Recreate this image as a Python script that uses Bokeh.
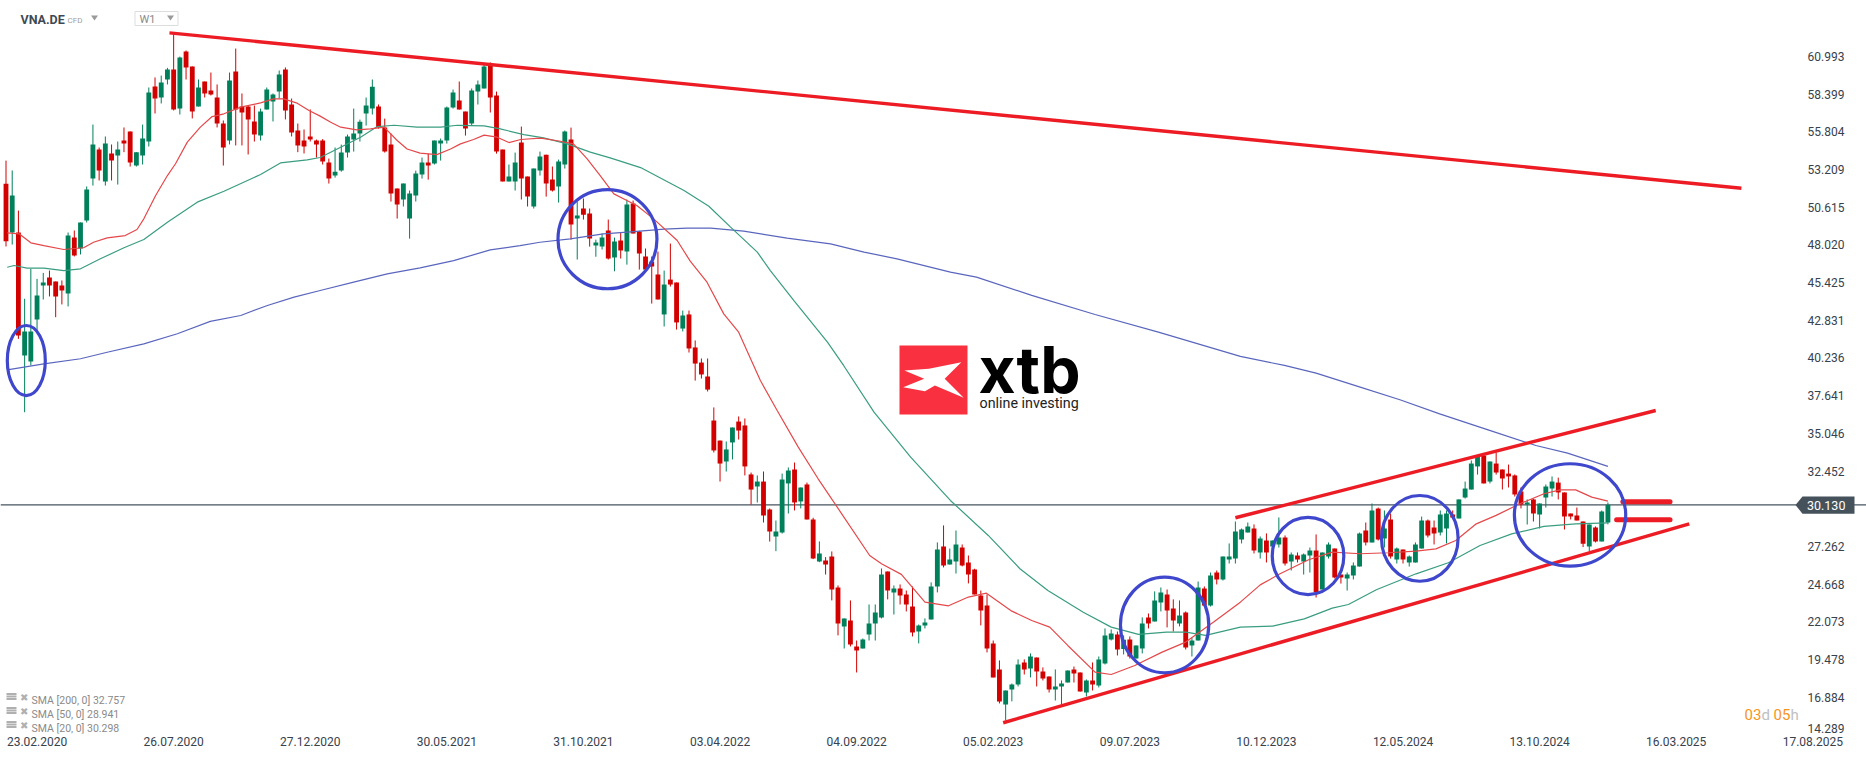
from bokeh.plotting import figure
from bokeh.models import (ColumnDataSource, FixedTicker, NumeralTickFormatter, Label, Span,
                          Range1d, PolyAnnotation)
from bokeh.embed import file_html
from bokeh.resources import INLINE

# ---------- data (weekly candles, prices) ----------
directions = ("RGRGGGGRRR" "GRGGGRGRGR" "RGGGRGGRGR" "RGRRRRGRRR" "RGGGGRRRRR"
              "RRRGGGGGGG" "RRRRGGGGRG" "GGGRRGGGRR" "RGGRRGGRRG" "GRGRRGGRGR"
              "GRRRRRGRRG" "RRRRRRGGRR" "RGRRGGGRGR" "RGRRRGRRGG" "GGRGRRRGGG"
              "GRGGRRRRRR" "RGGGRGRRRG" "GGRRGRGGGR" "GRGGRGGRRG" "RGGRGRGGGG"
              "GRGRGGRGRG" "GRGGRRGGGR" "GRGRGRGGGR" "RGGRGGGGRG" "RRRRRGRGGG"
              "RRRRRGRGG")

highs = [53.82,53.14,50.38,44.31,46.37,45.68,46.09,46.25,45.5,45.57,
48.87,49.01,49.56,52.04,56.3,54.72,55.48,54.93,55.13,56.1,
55.82,54.4,56.3,58.85,59.54,59.67,60.2,62.54,60.98,61.4,
60.3,59.4,59.26,59.88,59.06,56.58,59.88,61.53,58.44,57.61,
57.61,57.4,58.85,58.44,60.02,60.23,58.09,56.37,55.96,57.34,
55.27,55.3,53.96,54.72,54.92,55.61,57.4,56.64,58.16,59.4,
57.68,56.71,55.68,51.9,52.24,51.76,53.13,54.03,54.3,55.2,
55.34,57.54,58.71,59.26,57.19,58.78,59.33,60.43,60.57,58.57,
54.58,53.55,54.37,56.16,52.72,53.27,54.44,54.23,53.41,53.89,
55.89,56.09,51.0,51.21,50.52,48.38,48.8,49.76,48.52,48.84,
51.14,51.07,48.98,47.77,47.22,47.56,46.25,48.11,45.43,43.5,
43.5,41.44,40.2,40.2,36.83,34.55,34.49,35.45,36.21,36.07,
32.35,32.15,32.42,29.88,29.05,32.28,32.7,33.04,31.32,31.66,
29.24,27.61,26.53,26.92,24.58,22.31,23.55,20.79,20.93,23.27,
23.27,25.75,25.54,24.58,24.65,24.23,24.51,21.89,22.31,24.79,
27.54,28.71,27.12,28.36,27.4,26.64,25.73,24.23,23.96,20.79,
19.42,17.35,17.83,19.49,19.49,19.9,19.62,18.94,18.32,18.8,
18.04,18.73,19.0,18.59,18.11,19.28,19.69,21.62,21.55,21.41,
21.14,21.07,20.45,22.38,22.65,24.17,24.44,24.3,23.62,23.55,
22.79,20.98,24.85,24.51,25.47,25.61,26.57,27.47,28.98,28.5,
28.91,28.78,27.95,28.16,27.67,29.26,28.02,26.85,26.85,26.78,
27.19,28.09,26.85,27.54,27.12,25.33,25.47,26.16,28.22,28.91,
30.22,29.94,29.74,29.53,27.19,27.05,26.64,27.54,29.32,29.12,
29.05,29.74,29.74,29.74,30.5,31.73,33.18,33.52,33.52,33.11,
33.73,32.56,32.9,32.22,31.32,30.5,30.56,30.22,31.53,32.08,
32.0,30.98,29.53,29.94,28.98,28.78,28.64,29.74,30.29]

body_tops = [52.22,51.42,48.87,42.06,42.06,44.53,45.43,45.77,45.5,45.22,
48.66,48.53,49.56,51.83,54.93,54.58,55.0,54.31,54.58,55.2,
55.82,54.4,55.34,58.5,58.92,59.19,60.09,60.09,60.91,61.33,
60.3,58.85,59.26,58.64,58.16,56.37,59.33,59.95,57.54,57.54,
56.51,57.2,58.71,58.37,59.74,60.09,57.68,55.89,55.2,55.48,
55.2,55.2,53.68,53.06,54.37,55.47,55.68,56.5,57.61,58.91,
57.54,56.09,54.92,51.9,52.24,51.55,52.93,53.68,53.68,55.2,
55.2,57.47,58.5,57.95,57.19,58.64,59.05,60.29,60.43,58.3,
54.58,52.72,53.68,55.06,52.72,53.27,54.1,54.23,52.51,53.75,
55.82,55.27,50.04,50.52,50.17,48.18,48.52,49.0,48.25,48.32,
50.79,50.86,48.94,47.22,46.87,45.98,45.29,45.63,45.43,43.16,
43.23,40.96,39.92,38.96,35.93,34.55,33.94,35.45,35.86,35.59,
32.22,31.73,31.73,29.81,28.29,31.87,32.49,32.56,31.32,31.53,
29.12,26.78,26.3,26.57,24.44,22.31,22.17,20.38,20.86,21.96,
22.72,25.33,25.54,24.37,24.37,23.96,23.13,21.83,22.03,24.51,
27.05,27.26,26.37,27.4,27.19,26.16,25.68,23.89,23.2,20.59,
18.8,17.35,17.77,19.14,19.28,19.69,19.62,18.66,18.32,17.63,
17.83,18.73,18.8,18.59,18.04,18.04,19.49,21.14,21.27,21.21,
20.84,20.86,20.45,21.96,22.38,23.55,24.1,23.96,22.99,22.51,
22.72,20.79,24.44,24.37,25.27,25.47,26.57,26.57,28.29,28.43,
28.64,28.5,27.81,27.67,27.67,27.88,27.88,26.71,26.64,26.71,
26.98,26.98,26.85,27.4,27.12,25.33,25.33,25.95,28.16,28.36,
29.74,29.87,28.5,29.12,27.12,27.05,26.57,27.4,29.05,29.05,
28.57,29.46,29.53,29.46,30.5,31.25,32.97,33.45,33.52,33.11,
32.97,32.56,32.28,32.15,31.05,30.29,30.5,30.22,31.39,31.73,
31.66,30.98,29.53,29.39,28.98,28.78,28.57,29.67,30.13]

body_bottoms = [48.27,48.87,41.78,40.41,39.99,42.88,45.22,45.22,44.47,44.88,
44.67,47.29,47.77,49.7,52.59,53.14,52.38,53.82,54.17,55.0,
53.69,53.48,54.17,55.13,58.09,58.16,59.4,57.33,57.4,60.23,
57.2,57.54,58.44,58.37,56.37,54.72,55.2,57.33,57.13,56.65,
55.61,55.55,57.33,57.89,58.57,57.27,55.75,54.86,54.79,55.27,
54.93,53.75,52.58,52.79,53.13,54.37,55.27,55.68,57.06,57.4,
56.09,54.44,51.55,50.79,51.14,49.83,51.41,52.86,53.48,53.62,
54.99,55.2,57.47,57.33,56.02,56.37,58.57,58.78,58.16,54.44,
52.38,52.38,52.38,52.58,51.34,50.66,53.13,52.24,51.76,52.03,
53.55,49.42,49.83,50.1,48.45,47.97,47.9,47.08,47.15,47.63,
47.56,48.8,47.42,46.32,46.53,44.26,43.23,45.29,42.68,42.26,
40.89,39.85,39.1,38.06,33.87,32.97,33.11,34.42,35.24,32.77,
31.18,31.39,29.39,28.29,27.95,28.22,31.6,30.29,30.36,29.12,
26.44,26.23,26.02,24.3,21.96,21.76,20.52,20.1,20.24,21.2,
21.96,22.37,24.23,24.09,23.89,23.27,21.34,21.41,21.83,22.24,
24.51,25.95,26.02,26.23,25.95,25.34,23.96,22.86,20.24,18.25,
16.6,16.39,17.42,17.77,18.8,18.87,18.66,18.18,17.42,17.42,
17.63,17.9,18.52,17.28,17.22,17.77,17.7,19.21,20.86,20.17,
20.2,19.69,19.55,20.24,21.96,22.1,23.41,22.86,22.17,21.96,
20.31,20.45,20.79,23.2,23.2,24.99,24.99,26.37,26.44,27.74,
28.23,26.99,26.85,26.85,27.26,27.4,26.09,26.23,26.37,26.23,
26.64,24.12,24.3,26.57,25.13,25.13,25.06,25.26,25.88,27.54,
27.54,27.74,27.81,26.57,26.37,26.37,26.16,26.16,27.12,28.02,
28.16,28.22,28.5,29.26,29.19,30.63,31.18,32.77,31.6,31.73,
32.35,31.94,32.08,30.84,30.15,30.15,29.53,29.46,30.63,31.25,
30.98,29.33,29.33,29.05,27.45,27.26,27.6,27.61,28.91]

lows = [47.91,48.04,41.55,36.5,39.72,42.01,44.26,44.47,43.04,43.92,
43.78,47.22,47.36,49.56,52.1,52.45,52.1,52.45,52.17,54.4,
53.41,53.41,53.55,54.79,57.06,57.75,59.06,57.27,56.99,59.4,
56.72,57.54,58.16,58.3,56.1,53.48,54.93,54.86,54.86,54.24,
55.13,55.2,57.33,56.51,58.09,56.65,55.48,54.4,54.31,55.13,
54.03,53.55,52.24,52.65,53.06,54.03,54.44,55.13,56.23,56.99,
56.02,54.37,51.0,49.83,50.66,48.45,51.0,52.58,52.51,53.55,
53.82,54.99,57.4,57.33,55.54,56.23,57.68,58.78,57.13,54.3,
52.38,52.38,51.76,51.14,50.66,50.52,52.79,51.34,51.69,50.93,
53.27,48.38,47.01,49.76,47.9,47.2,47.7,47.01,46.2,47.08,
46.66,48.8,46.32,46.25,43.98,44.26,42.4,45.15,42.19,42.06,
40.61,38.68,38.82,37.93,33.73,31.73,32.42,33.25,34.62,32.15,
30.15,30.29,28.91,27.6,26.94,28.15,29.53,29.74,29.88,29.12,
26.39,26.18,25.33,23.55,21.14,20.24,20.38,18.59,20.24,20.79,
20.79,22.31,23.62,22.58,23.27,22.79,21.07,20.59,21.62,22.24,
24.1,25.82,26.02,25.4,25.89,24.72,23.96,21.83,19.97,18.25,
16.46,15.29,16.6,17.63,18.45,18.25,17.63,18.04,17.21,16.66,
16.39,17.9,17.9,17.28,16.94,17.35,17.56,19.14,20.79,19.76,
19.83,19.55,19.55,19.9,21.62,22.1,22.79,21.69,21.41,21.76,
20.17,19.69,20.79,23.13,23.13,24.65,24.92,26.09,26.09,27.47,
28.23,26.78,26.43,26.16,26.64,27.19,25.95,25.61,26.16,25.33,
25.47,23.75,24.3,26.43,25.06,24.71,24.23,24.99,25.88,27.33,
27.54,27.67,27.19,26.43,26.09,26.09,25.88,26.16,27.12,27.88,
27.4,28.02,27.47,29.19,29.19,30.56,31.18,32.21,31.6,31.6,
32.21,31.18,31.32,30.7,29.88,28.77,28.98,28.5,29.94,30.7,
30.5,28.43,29.12,29.05,27.22,26.94,27.54,27.61,28.78]

sma200_weeks = [0.2,6.1,12,16.3,22.2,27.6,32.9,37.8,42.1,46.4,50.6,56,61.4,66.7,72.1,78,82.8,86,90.9,96.2,
                100.6,106,109.7,113.5,118.8,125.8,132.8,138.2,143.5,152.1,156.3,165.2,175.4,185.6,198.8,
                205.9,211,218.1,224.5,230.9,238.7,246.4,251.5,258]
sma200_vals = [39.42,39.83,40.18,40.63,41.21,41.9,42.75,43.16,43.85,44.42,44.88,45.45,46.02,46.44,46.94,47.67,47.97,48.2,48.43,48.77,
               48.92,49.1,49.17,49.17,48.96,48.48,48.09,47.52,47.06,46.14,45.8,44.54,43.23,42.01,40.34,
               39.72,39.19,38.23,37.36,36.39,35.29,34.21,33.69,32.77]

sma50_weeks = [0.2,1.3,3.4,6.1,9.3,12,15.2,19,22.2,26,30.8,35.1,41,44.2,48.5,50.6,53.9,57.1,59.8,62.5,66.2,70,72.7,77,
               79.6,83.4,86.6,90.4,94.1,97.3,102.2,109.2,113.2,116.7,121,123.1,126.9,132.3,134.9,139.8,145.7,152.1,
               158.2,163.3,167.8,173.5,178,182.4,186.9,190,193.2,198.8,204,209.1,213.6,216.2,220.7,227.1,232.3,
               237.4,242.5,247.7,252.8,258]
sma50_vals = [46.48,46.6,46.42,46.42,46.25,46.37,47.06,47.82,48.39,49.58,50.96,51.71,52.86,53.66,53.87,54.03,54.74,55.43,56.16,56.25,56.12,56.12,56.25,56.21,
              56.0,55.61,55.38,54.97,54.4,54.01,53.34,51.76,50.68,49.24,47.52,46.25,44.19,41.32,39.72,36.51,33.41,30.43,
              28.02,25.73,24.23,22.74,21.71,21.21,21.37,21.37,21.14,21.71,21.78,22.28,23.02,23.27,24.28,25.38,26.14,
              27.33,28.13,28.64,28.82,28.89]

sma20_weeks = [0.2,2.1,4,6.1,9.3,12.5,14.1,16.3,19.2,21.1,22.2,24.1,26,27.3,29.2,31.3,33.2,35.1,37.8,41,43.1,44.7,46.9,48.8,50.6,
               52.3,53.9,56.5,58.7,60.9,63,64.6,66.7,69.4,71.6,73.2,75.3,77,79.1,81,82.9,86.1,89.3,91.4,93.6,95.7,97.9,100,
               101.6,104.3,108.1,110.2,112.9,115.6,118,121.5,124.2,127.6,130.8,134.6,139.1,141,144.2,148,151.8,155,157.9,
               162,165.2,168.1,171,175.4,178,181.8,186.2,190,194.5,198.8,202,205.2,209.8,213.6,218.1,222.6,227.1,230.3,
               233.5,236.8,240,243.8,247.7,250.3,252.8,255.4,258]
sma20_vals = [48.85,48.78,48.16,47.97,47.7,47.82,48.2,48.5,48.66,49.08,49.81,51.42,52.79,53.6,55.09,56.12,56.85,57.04,57.5,57.79,58.07,58.07,57.77,57.27,56.88,
              56.46,56.12,55.93,56.0,56.12,55.2,54.62,54.33,54.23,54.62,54.97,55.27,55.57,55.43,55.06,55.27,55.36,55.15,54.97,53.94,52.79,51.53,51.07,
              50.73,49.81,48.32,46.9,45.45,43.27,42.01,38.68,36.62,34.1,31.92,29.51,26.64,26.07,25.34,23.43,23.18,23.78,24.05,
              22.81,22.17,21.71,20.45,18.61,18.45,19.07,19.99,20.68,22.06,23.43,24.62,25.38,26.35,26.87,26.76,26.83,26.94,27.1,
              27.67,28.82,29.4,30.2,30.89,31.16,31.16,30.66,30.38]

date_labels = ["23.02.2020","26.07.2020","27.12.2020","30.05.2021","31.10.2021","03.04.2022","04.09.2022",
               "05.02.2023","09.07.2023","10.12.2023","12.05.2024","13.10.2024","16.03.2025","17.08.2025"]
price_ticks = [60.993,58.399,55.804,53.209,50.615,48.020,45.425,42.831,40.236,37.641,35.046,32.452,
               27.262,24.668,22.073,19.478,16.884,14.289]
last_price = 30.13
sma_legend = ["SMA [200,  0] 32.757", "SMA [50,  0] 28.941", "SMA [20,  0] 30.298"]

trend_lines = [([26.33,279.5],[62.61,51.92]), ([160.6,271.1],[15.13,28.82]), ([198.0,265.7],[29.24,36.62])]
target_lines = [([260.4,268.0],[30.34,30.34]), ([259.4,268.0],[29.10,29.10])]
circle_week = [3.27,96.87,186.6,209.7,227.7,251.9]
circle_price = [40.06,48.41,21.86,26.61,27.82,29.43]
circle_w = [6.12,15.94,14.22,11.53,12.34,17.93]
circle_h = [4.82,6.83,6.58,5.32,5.90,7.05]

# ---------- page mapping: reference pixel -> week / price ----------
X0, WEEK_PX, PY0, PRICE_PX = 5.5, 6.209, 504.3, 14.53
def X(px): return (px - X0) / WEEK_PX
def Y(py): return last_price + (PY0 - py) / PRICE_PX

W, H = 1866, 759
FRAME_B = 733
p = figure(width=W, height=H, output_backend="svg", toolbar_location=None,
           x_range=Range1d(X(0), X(W)), y_range=Range1d(Y(FRAME_B), Y(0)),
           x_axis_location="below", y_axis_location="right",
           min_border_left=0, min_border_top=0, min_border_right=0,
           min_border_bottom=H - FRAME_B)
p.outline_line_color = None
p.background_fill_color = "white"
p.border_fill_color = "white"
p.xgrid.visible = False
p.ygrid.visible = False

TXT = "#37424c"
ax = p.xaxis[0]
x_ticks = [5 + 22 * k for k in range(len(date_labels))]
ax.ticker = FixedTicker(ticks=x_ticks)
ax.major_label_overrides = {t: s for t, s in zip(x_ticks, date_labels)}
ay = p.yaxis[0]
BOTTOM_SHOWN = 14.76  # the lowest label is pushed up off the date row, as in the reference
y_ticks = price_ticks[:-1] + [BOTTOM_SHOWN]
ay.ticker = FixedTicker(ticks=y_ticks)
ay.formatter = NumeralTickFormatter(format="0.000")
ay.major_label_overrides = {BOTTOM_SHOWN: "%.3f" % price_ticks[-1]}
for a in (ax, ay):
    a.axis_line_color = None
    a.major_tick_line_color = None
    a.minor_tick_line_color = None
    a.major_tick_in = 0
    a.major_tick_out = 0
    a.major_label_text_font = "Roboto"
    a.major_label_text_font_size = "12px"
    a.major_label_text_color = TXT
ax.major_label_standoff = 3
ay.major_label_standoff = -59

# last price line
p.add_layout(Span(location=last_price, dimension="width", line_color="#46555f", line_width=1.2, level="underlay"))

# candles
weeks = list(range(len(highs)))
RED, GREEN = "#d30000", "#00805a"
colors = [GREEN if d == "G" else RED for d in directions]
src = ColumnDataSource(dict(x=weeks, h=highs, l=lows, t=body_tops, b=body_bottoms, c=colors))
p.segment("x", "h", "x", "l", source=src, line_color="c", line_width=1)
p.vbar("x", width=0.78, top="t", bottom="b", source=src, fill_color="c", line_color=None)

# moving averages
p.line(sma200_weeks, sma200_vals, line_color="#5a66bd", line_width=1.2)
p.line(sma50_weeks, sma50_vals, line_color="#3a9d80", line_width=1.2)
p.line(sma20_weeks, sma20_vals, line_color="#e5484a", line_width=1.2)

# drawn annotations
for xs, ys in trend_lines:
    p.line(xs, ys, line_color="#ed1c24", line_width=3.4)
for xs, ys in target_lines:
    p.line(xs, ys, line_color="#ed1c24", line_width=5, line_cap="round")
p.ellipse(circle_week, circle_price, width=circle_w, height=circle_h,
          fill_color=None, line_color="#3f48cc", line_width=3.2)

# logo
def text(px, py, s, font="Roboto", size="12px", color=TXT, style="normal", align="left"):
    p.add_layout(Label(x=X(px), y=Y(py), text=s, text_font=font, text_font_size=size, text_color=color,
                       text_font_style=style, text_baseline="middle", text_align=align))

p.quad(left=[X(899)], right=[X(967)], top=[Y(345)], bottom=[Y(414)], fill_color="#f9303f", line_color=None)
logo_x = [903.9, 928.4, 960.8, 944.2, 963.2, 934.4, 924.5, 902.7, 923.7]
logo_y = [370, 368.3, 361.7, 378.3, 397.3, 385, 390.7, 386.7, 378.3]
p.patch([X(v) for v in logo_x], [Y(v) for v in logo_y], fill_color="white", line_color=None)
text(978, 369, "xtb", font="Inter", size="64px", color="#000000", style="bold")
text(979, 402, "online investing", size="14.3px", color="#222222")

# header
text(20, 19, "VNA.DE", size="12.5px", color="#3f4a54", style="bold")
text(67, 19.5, "CFD", size="8px", color="#a0a0a0")
hdr_x = [[90.5, 97.5, 94], [166.5, 173.5, 170]]
hdr_y = [[15, 15, 20], [15, 15, 20]]
p.patches([[X(v) for v in r] for r in hdr_x], [[Y(v) for v in r] for r in hdr_y], fill_color="#9a9a9a", line_color=None)
p.quad(left=[X(134.5)], right=[X(177.5)], top=[Y(11)], bottom=[Y(25)], fill_color=None, line_color="#dddddd", line_width=1)
text(139, 19, "W1", size="11px", color="#8a8a8a")

# legend rows
for py, s in zip([699.5, 713.5, 727.5], sma_legend):
    text(31, py, s, size="10.5px", color="#8a8a8a")
    for dy in (-6, -3.5, -1):
        p.line([X(6), X(16)], [Y(py + dy), Y(py + dy)], line_color="#b0b0b0", line_width=1.8)
    text(19.5, py - 3, "\u2716", font="DejaVu Sans", size="10px", color="#b0b0b0")

# countdown
text(1744, 714, "03", size="15px", color="#f7941d")
text(1761, 714, "d", size="15px", color="#c0c0c0")
text(1773, 714, "05", size="15px", color="#f7941d")
text(1790, 714, "h", size="15px", color="#c0c0c0")

# last price tag
box_x = [1795, 1802, 1854, 1854, 1802]
box_y = [504.5, 496, 496, 513.3, 513.3]
p.add_layout(PolyAnnotation(xs=[X(v) for v in box_x], ys=[Y(v) for v in box_y],
                            fill_color="#45525c", fill_alpha=1, line_color=None))
text(1806.5, 505, "%.3f" % last_price, size="12.5px", color="#ffffff")

open("out.html", "w").write(file_html(p, INLINE))
